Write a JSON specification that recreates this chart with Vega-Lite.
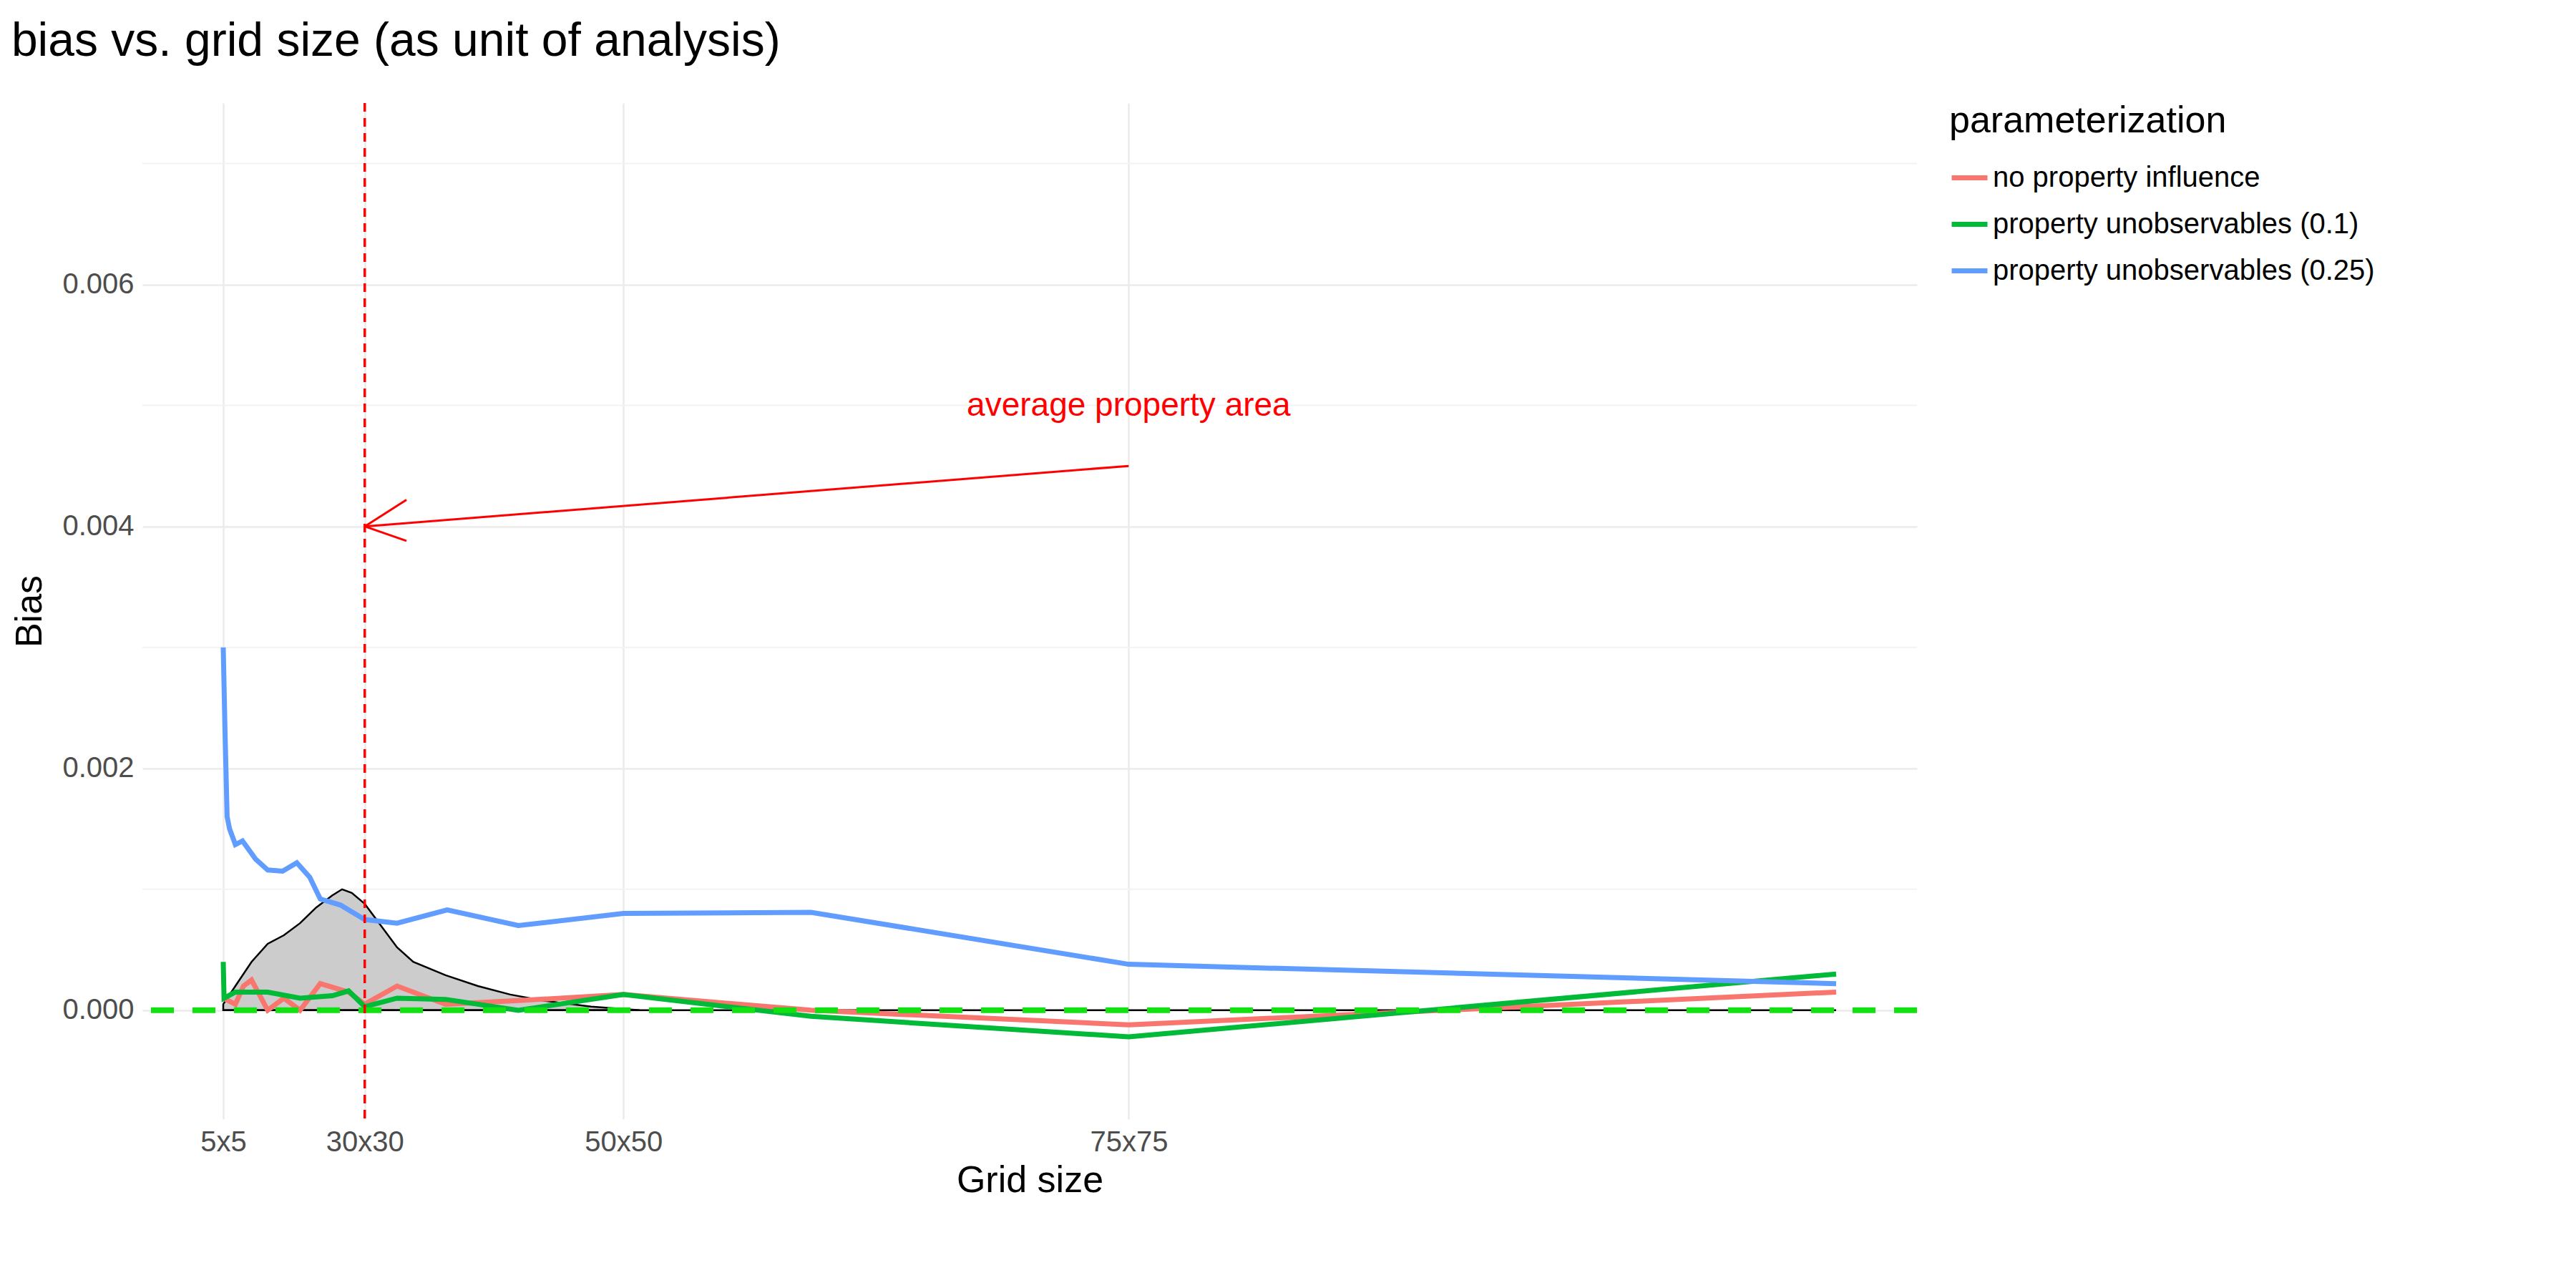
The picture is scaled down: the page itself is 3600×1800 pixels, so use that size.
{
  "$schema": "https://vega.github.io/schema/vega-lite/v6.json",
  "width": 2480,
  "height": 1420,
  "autosize": {"type": "pad"},
  "padding": {"left": 15, "top": 25, "right": 20, "bottom": 15},
  "background": "white",
  "title": {"text": "bias vs. grid size (as unit of analysis)", "anchor": "start", "fontSize": 66, "font": "Liberation Sans", "fontWeight": "normal", "color": "black", "offset": 50, "dx": 0},
  "config": {
    "font": "Liberation Sans",
    "view": {"stroke": null},
    "axis": {"labelFontSize": 40, "labelColor": "#4D4D4D", "titleFontSize": 52, "titleFontWeight": "normal", "titleColor": "black", "domain": false, "ticks": false, "gridColor": "#EBEBEB", "gridWidth": 2.5, "labelPadding": 12}
  },
  "encoding": {
    "x": {"type": "quantitative", "scale": {"domain": [-475, 10500], "nice": false, "zero": false}},
    "y": {"type": "quantitative", "scale": {"domain": [-0.0009, 0.0075], "nice": false, "zero": false}}
  },
  "layer": [
    {
      "data": {"values": [{"v": 0.001}, {"v": 0.003}, {"v": 0.005}, {"v": 0.007}]},
      "mark": {"type": "rule", "color": "#F3F3F3", "strokeWidth": 2},
      "encoding": {"y": {"field": "v", "type": "quantitative", "axis": {"title": "Bias", "values": [0, 0.002, 0.004, 0.006], "format": ".3f", "titlePadding": 18}}}
    },
    {
      "data": {"values": [
        {"x": 25, "d": 0.00005}, {"x": 100, "d": 0.0002}, {"x": 200, "d": 0.0004}, {"x": 300, "d": 0.00055},
        {"x": 400, "d": 0.00062}, {"x": 500, "d": 0.00072}, {"x": 600, "d": 0.00085}, {"x": 700, "d": 0.00095},
        {"x": 760, "d": 0.001}, {"x": 820, "d": 0.00097}, {"x": 900, "d": 0.00088}, {"x": 1000, "d": 0.0007},
        {"x": 1100, "d": 0.00052}, {"x": 1200, "d": 0.0004}, {"x": 1400, "d": 0.00029}, {"x": 1600, "d": 0.0002},
        {"x": 1800, "d": 0.00013}, {"x": 2000, "d": 0.00008}, {"x": 2300, "d": 0.00003}, {"x": 2600, "d": 0.0}
      ]},
      "mark": {"type": "area", "color": "#CCCCCC", "stroke": "black", "strokeWidth": 2.5},
      "encoding": {
        "x": {"field": "x", "type": "quantitative", "axis": {"title": "Grid size", "values": [25, 900, 2500, 5625], "labelExpr": "format(sqrt(datum.value),'d') + 'x' + format(sqrt(datum.value),'d')", "titlePadding": 8}},
        "y": {"field": "d", "type": "quantitative"}
      }
    },
    {
      "data": {"values": [{"x": 25, "x2": 10000, "y": 0}]},
      "mark": {"type": "rule", "color": "black", "strokeWidth": 2.5},
      "encoding": {"x": {"field": "x", "type": "quantitative"}, "x2": {"field": "x2"}, "y": {"field": "y", "type": "quantitative"}}
    },
    {
      "data": {"values": [
        {"s": "no property influence", "x": 25, "y": 0.0001}, {"s": "no property influence", "x": 100, "y": 0.00005},
        {"s": "no property influence", "x": 150, "y": 0.0002}, {"s": "no property influence", "x": 200, "y": 0.00025},
        {"s": "no property influence", "x": 300, "y": 0.0}, {"s": "no property influence", "x": 400, "y": 0.0001},
        {"s": "no property influence", "x": 500, "y": 0.0}, {"s": "no property influence", "x": 625, "y": 0.00022},
        {"s": "no property influence", "x": 800, "y": 0.00015}, {"s": "no property influence", "x": 900, "y": 0.00005},
        {"s": "no property influence", "x": 1100, "y": 0.0002}, {"s": "no property influence", "x": 1400, "y": 0.00005},
        {"s": "no property influence", "x": 1850, "y": 0.00008}, {"s": "no property influence", "x": 2500, "y": 0.00013},
        {"s": "no property influence", "x": 3660, "y": 0.0}, {"s": "no property influence", "x": 5625, "y": -0.00012},
        {"s": "no property influence", "x": 10000, "y": 0.00015},
        {"s": "property unobservables (0.1)", "x": 25, "y": 0.0004}, {"s": "property unobservables (0.1)", "x": 30, "y": 0.0001},
        {"s": "property unobservables (0.1)", "x": 100, "y": 0.00015}, {"s": "property unobservables (0.1)", "x": 300, "y": 0.00015},
        {"s": "property unobservables (0.1)", "x": 500, "y": 0.0001}, {"s": "property unobservables (0.1)", "x": 700, "y": 0.00012},
        {"s": "property unobservables (0.1)", "x": 800, "y": 0.00016}, {"s": "property unobservables (0.1)", "x": 900, "y": 0.00003},
        {"s": "property unobservables (0.1)", "x": 1100, "y": 0.0001}, {"s": "property unobservables (0.1)", "x": 1400, "y": 0.00009},
        {"s": "property unobservables (0.1)", "x": 1850, "y": 0.0}, {"s": "property unobservables (0.1)", "x": 2500, "y": 0.00013},
        {"s": "property unobservables (0.1)", "x": 3660, "y": -0.00005}, {"s": "property unobservables (0.1)", "x": 5625, "y": -0.00022},
        {"s": "property unobservables (0.1)", "x": 10000, "y": 0.0003},
        {"s": "property unobservables (0.25)", "x": 25, "y": 0.003}, {"s": "property unobservables (0.25)", "x": 36, "y": 0.0023},
        {"s": "property unobservables (0.25)", "x": 49, "y": 0.0016}, {"s": "property unobservables (0.25)", "x": 64, "y": 0.0015},
        {"s": "property unobservables (0.25)", "x": 100, "y": 0.00137}, {"s": "property unobservables (0.25)", "x": 144, "y": 0.0014},
        {"s": "property unobservables (0.25)", "x": 225, "y": 0.00125}, {"s": "property unobservables (0.25)", "x": 300, "y": 0.00116},
        {"s": "property unobservables (0.25)", "x": 392, "y": 0.00115}, {"s": "property unobservables (0.25)", "x": 480, "y": 0.00122},
        {"s": "property unobservables (0.25)", "x": 560, "y": 0.0011}, {"s": "property unobservables (0.25)", "x": 625, "y": 0.00092},
        {"s": "property unobservables (0.25)", "x": 750, "y": 0.00087}, {"s": "property unobservables (0.25)", "x": 900, "y": 0.00075},
        {"s": "property unobservables (0.25)", "x": 1100, "y": 0.00072}, {"s": "property unobservables (0.25)", "x": 1410, "y": 0.00083},
        {"s": "property unobservables (0.25)", "x": 1850, "y": 0.0007}, {"s": "property unobservables (0.25)", "x": 2500, "y": 0.0008},
        {"s": "property unobservables (0.25)", "x": 3660, "y": 0.00081}, {"s": "property unobservables (0.25)", "x": 5625, "y": 0.00038},
        {"s": "property unobservables (0.25)", "x": 10000, "y": 0.00022}
      ]},
      "mark": {"type": "line", "strokeWidth": 7},
      "encoding": {
        "x": {"field": "x", "type": "quantitative"},
        "y": {"field": "y", "type": "quantitative"},
        "color": {"field": "s", "type": "nominal", "scale": {"range": ["#F8766D", "#00BA38", "#619CFF"]},
          "legend": {"title": "parameterization", "titleFontSize": 52, "titleFontWeight": "normal", "titleColor": "black", "titleLimit": 0, "labelLimit": 0, "labelFontSize": 40, "labelColor": "black", "symbolType": "stroke", "symbolStrokeWidth": 7, "symbolSize": 2500, "rowPadding": 16, "titlePadding": 24, "offset": 45, "orient": "right", "direction": "vertical"}}
      }
    },
    {
      "data": {"values": [{"y": 0}]},
      "mark": {"type": "rule", "color": "#11E011", "strokeWidth": 8, "strokeDash": [32, 26]},
      "encoding": {"y": {"field": "y", "type": "quantitative"}}
    },
    {
      "data": {"values": [{"x": 900}]},
      "mark": {"type": "rule", "color": "red", "strokeWidth": 3.5, "strokeDash": [12, 9]},
      "encoding": {"x": {"field": "x", "type": "quantitative"}}
    },
    {
      "data": {"values": [
        {"x": 5625, "y": 0.0045, "x2": 900, "y2": 0.004},
        {"x": 1158, "y": 0.00422, "x2": 900, "y2": 0.004},
        {"x": 1158, "y": 0.00388, "x2": 900, "y2": 0.004}
      ]},
      "mark": {"type": "rule", "color": "red", "strokeWidth": 3},
      "encoding": {"x": {"field": "x", "type": "quantitative"}, "x2": {"field": "x2"}, "y": {"field": "y", "type": "quantitative"}, "y2": {"field": "y2"}}
    },
    {
      "data": {"values": [{"x": 5625, "y": 0.005, "t": "average property area"}]},
      "mark": {"type": "text", "color": "red", "fontSize": 46, "baseline": "middle"},
      "encoding": {"x": {"field": "x", "type": "quantitative"}, "y": {"field": "y", "type": "quantitative"}, "text": {"field": "t"}}
    }
  ]
}
